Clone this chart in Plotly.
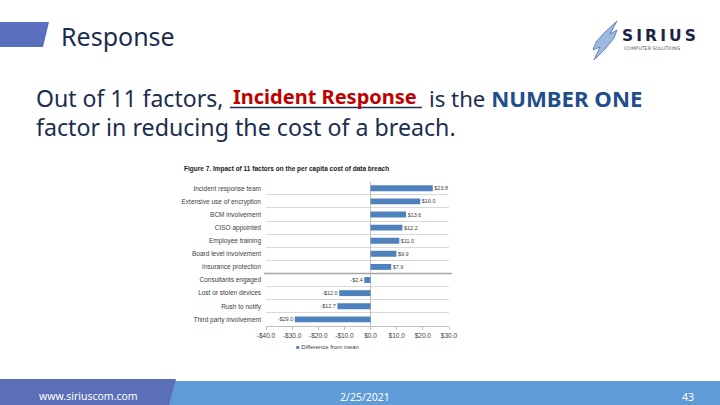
import plotly.graph_objects as go

W, H = 720, 405

categories = [
    "Incident response team",
    "Extensive use of encryption",
    "BCM involvement",
    "CISO appointed",
    "Employee training",
    "Board level involvement",
    "Insurance protection",
    "Consultants engaged",
    "Lost or stolen devices",
    "Rush to notify",
    "Third party involvement",
]
values = [23.8, 19.0, 13.6, 12.2, 11.0, 9.9, 7.9, -2.4, -12.0, -12.7, -29.0]
tick_values = [-40, -30, -20, -10, 0, 10, 20, 30]
tick_labels = ["-$40.0", "-$30.0", "-$20.0", "-$10.0", "$0.0", "$10.0", "$20.0", "$30.0"]
series_name = "Difference from mean"
bar_color = "#4f81bd"

bar_text = [(" $%.1f" % v) if v >= 0 else ("-$%.1f " % abs(v)) for v in values]


def px(x):
    return x / W


def py(y):
    return 1 - y / H


def path(points):
    return "M " + " L ".join("%.5f,%.5f" % (px(x), py(y)) for x, y in points) + " Z"


fig = go.Figure()
fig.add_trace(go.Bar(
    x=values, y=categories, orientation="h",
    name=series_name,
    marker=dict(color=bar_color, line=dict(width=0)),
    width=0.45,
    text=bar_text, textposition="outside",
    textfont=dict(size=6.5, color="#404040", family="Liberation Sans"),
    cliponaxis=False,
    showlegend=False,
))

shapes = [
    dict(type="path", xref="paper", yref="paper", layer="below",
         path=path([(0, 22), (49, 22), (43, 47), (0, 47)]),
         fillcolor="#5a6fbd", line=dict(width=0)),
    dict(type="rect", xref="paper", yref="paper", layer="below",
         x0=0, x1=1, y0=0, y1=py(381), fillcolor="#5f9bd6", line=dict(width=0)),
    dict(type="path", xref="paper", yref="paper", layer="below",
         path=path([(0, 379), (176, 379), (169, 405), (0, 405)]),
         fillcolor="#5a6fb8", line=dict(width=0)),
    dict(type="line", xref="paper", yref="paper",
         x0=px(230), x1=px(422), y0=py(107.5), y1=py(107.5),
         line=dict(color="#1c2d4f", width=1.5)),
    # logo swoosh
    dict(type="path", xref="paper", yref="paper",
         path=path([(617, 21), (604, 33), (596, 42), (593, 50), (600, 47), (594, 60),
                    (606, 48), (614, 38), (617, 30), (610, 34)]),
         fillcolor="#9db9e0", line=dict(color="#4f6fa8", width=0.8)),
    dict(type="line", xref="paper", yref="y",
         x0=px(264), x1=px(452), y0=6.5, y1=6.5,
         line=dict(color="#a6a6a6", width=1.5)),
]

font_main = "Noto Sans"
ann = []


def add(text, x, y, size, color, family=font_main, xanchor="left"):
    ann.append(dict(text=text, x=px(x), y=py(y), xref="paper", yref="paper",
                    xanchor=xanchor, yanchor="middle", showarrow=False,
                    font=dict(family=family, size=size, color=color)))


add("Response", 59, 36, 25, "#1c2d4f")
add("Out of 11 factors,", 34, 98, 23, "#1c2d4f")
add("<b>Incident Response</b>", 325, 97, 20, "#c00000", xanchor="center")
add("is the <span style='color:#1f4e8c'><b>NUMBER ONE</b></span>", 427, 98, 22.2, "#1c2d4f")
add("factor in reducing the cost of a breach.", 34, 127, 23.2, "#1c2d4f")
add("<b>Figure 7. Impact of 11 factors on the per capita cost of data breach</b>",
    182, 169, 6.5, "#1a1a1a", family="Liberation Sans")
add("<span style='color:%s'>■</span> %s" % (bar_color, series_name), 294, 347, 6, "#404040",
    family="Liberation Sans")
add("<b>S\u2009I\u2009R\u2009I\u2009U\u2009S</b>", 620, 35.5, 15.5, "#1c2346", family="DejaVu Sans")
add("COMPUTER SOLUTIONS", 622, 48.5, 4.8, "#555555", family="DejaVu Sans")
add("www.siriuscom.com", 37, 396, 10.5, "#ffffff")
add("2/25/2021", 365, 397, 10.5, "#ffffff", xanchor="center")
add("43", 688, 397, 10.5, "#ffffff", xanchor="center")

fig.update_layout(
    width=W, height=H,
    margin=dict(l=0, r=0, t=0, b=0, pad=0, autoexpand=False),
    paper_bgcolor="white", plot_bgcolor="white",
    shapes=shapes, annotations=ann,
    showlegend=False,
    xaxis=dict(
        domain=[px(266), px(449)], range=[-40, 30],
        tickvals=tick_values, ticktext=tick_labels,
        showgrid=False, zeroline=True, zerolinecolor="#bfbfbf", zerolinewidth=1,
        showline=True, linecolor="#bfbfbf", linewidth=1,
        ticks="outside", ticklen=3, tickcolor="#bfbfbf",
        tickfont=dict(family="Liberation Sans", size=6.5, color="#404040"),
        fixedrange=True, automargin=False,
    ),
    yaxis=dict(
        domain=[py(325.9), py(181.7)],
        type="category", categoryorder="array", categoryarray=categories,
        range=[10.5, -0.5],
        tickson="boundaries", showgrid=True, gridcolor="#d9d9d9", gridwidth=1,
        ticks="", ticklabelstandoff=4,
        tickfont=dict(family="Liberation Sans", size=6.5, color="#404040"),
        zeroline=False, fixedrange=True, automargin=False,
    ),
)

fig.write_html(
    "out.html",
    config={"displayModeBar": False},
    post_script="document.body.style.margin='0';document.body.style.overflow='hidden';"
                "document.documentElement.style.overflow='hidden';",
)
